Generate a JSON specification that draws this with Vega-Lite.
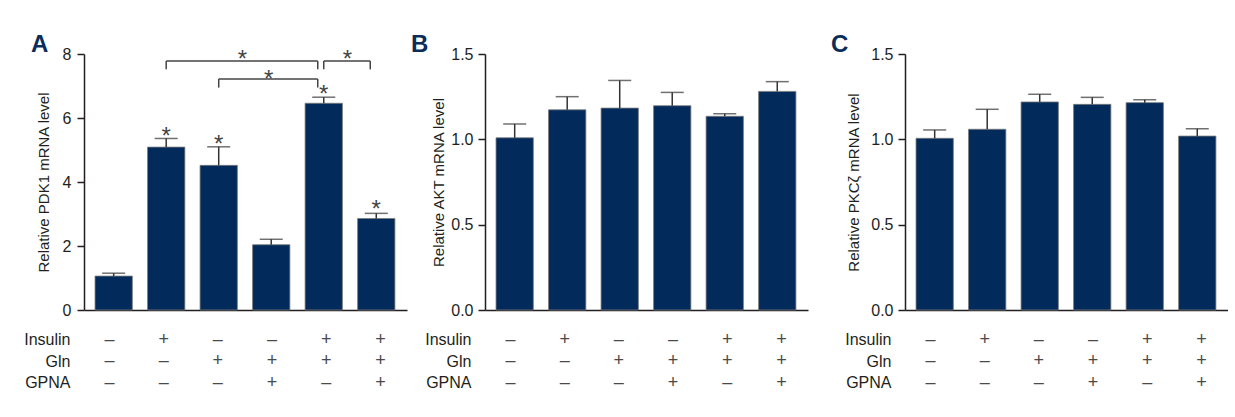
{
  "$schema": "https://vega.github.io/schema/vega-lite/v6.json",
  "background": "white",
  "padding": {"left": 23, "top": 33, "right": 0, "bottom": 0},
  "config": {
    "view": {"stroke": null},
    "font": "Liberation Sans, sans-serif",
    "axis": {
      "labelFont": "Liberation Sans, sans-serif",
      "titleFont": "Liberation Sans, sans-serif",
      "labelFontSize": 16, "titleFontSize": 15, "titleFontWeight": "normal",
      "labelColor": "#231f20", "titleColor": "#231f20",
      "domainColor": "#231f20", "tickColor": "#231f20",
      "domainWidth": 1.5, "tickWidth": 1.5, "grid": false
    },
    "title": {"font": "Liberation Sans, sans-serif", "fontSize": 24, "fontWeight": "bold", "color": "#0b2d5b", "anchor": "start", "frame": "group"}
  },
  "datasets": {
    "bars": [
      {"panel": "A", "pos": 1, "value": 1.06, "upper": 1.15, "star": false},
      {"panel": "A", "pos": 2, "value": 5.09, "upper": 5.36, "star": true, "starY": 5.61},
      {"panel": "A", "pos": 3, "value": 4.52, "upper": 5.10, "star": true, "starY": 5.38},
      {"panel": "A", "pos": 4, "value": 2.04, "upper": 2.21, "star": false},
      {"panel": "A", "pos": 5, "value": 6.46, "upper": 6.65, "star": true, "starY": 6.93},
      {"panel": "A", "pos": 6, "value": 2.86, "upper": 3.02, "star": true, "starY": 3.33},
      {"panel": "B", "pos": 1, "value": 1.009, "upper": 1.09, "star": false},
      {"panel": "B", "pos": 2, "value": 1.173, "upper": 1.25, "star": false},
      {"panel": "B", "pos": 3, "value": 1.183, "upper": 1.345, "star": false},
      {"panel": "B", "pos": 4, "value": 1.197, "upper": 1.275, "star": false},
      {"panel": "B", "pos": 5, "value": 1.135, "upper": 1.15, "star": false},
      {"panel": "B", "pos": 6, "value": 1.281, "upper": 1.338, "star": false},
      {"panel": "C", "pos": 1, "value": 1.006, "upper": 1.055, "star": false},
      {"panel": "C", "pos": 2, "value": 1.059, "upper": 1.176, "star": false},
      {"panel": "C", "pos": 3, "value": 1.219, "upper": 1.264, "star": false},
      {"panel": "C", "pos": 4, "value": 1.205, "upper": 1.246, "star": false},
      {"panel": "C", "pos": 5, "value": 1.215, "upper": 1.232, "star": false},
      {"panel": "C", "pos": 6, "value": 1.019, "upper": 1.062, "star": false}
    ],
    "brackets": [
      {"from": 2, "to": 5, "y": 7.78, "yEnd": 7.52, "mid": 3.45, "starY": 8.02},
      {"from": 3, "to": 5, "y": 7.22, "yEnd": 6.95, "mid": 3.95, "starY": 7.42},
      {"from": 5, "to": 6, "y": 7.78, "yEnd": 7.52, "mid": 5.45, "starY": 8.02}
    ],
    "table": [
      {"pos": 1, "factor": "Insulin", "sign": "–"}, {"pos": 2, "factor": "Insulin", "sign": "+"}, {"pos": 3, "factor": "Insulin", "sign": "–"},
      {"pos": 4, "factor": "Insulin", "sign": "–"}, {"pos": 5, "factor": "Insulin", "sign": "+"}, {"pos": 6, "factor": "Insulin", "sign": "+"},
      {"pos": 1, "factor": "Gln", "sign": "–"}, {"pos": 2, "factor": "Gln", "sign": "–"}, {"pos": 3, "factor": "Gln", "sign": "+"},
      {"pos": 4, "factor": "Gln", "sign": "+"}, {"pos": 5, "factor": "Gln", "sign": "+"}, {"pos": 6, "factor": "Gln", "sign": "+"},
      {"pos": 1, "factor": "GPNA", "sign": "–"}, {"pos": 2, "factor": "GPNA", "sign": "–"}, {"pos": 3, "factor": "GPNA", "sign": "–"},
      {"pos": 4, "factor": "GPNA", "sign": "+"}, {"pos": 5, "factor": "GPNA", "sign": "–"}, {"pos": 6, "factor": "GPNA", "sign": "+"}
    ]
  },
  "spacing": 4,
  "hconcat": [
    {
      "spacing": 11,
      "vconcat": [
        {
          "title": {"text": "A", "dx": -53, "offset": -11},
          "width": 323, "height": 256,
          "data": {"name": "bars"},
          "transform": [{"filter": "datum.panel === 'A'"}],
          "encoding": {
            "x": {"field": "pos", "type": "quantitative", "scale": {"domain": [0.53, 6.49], "nice": false, "zero": false},
                  "axis": {"title": null, "labels": false, "ticks": false, "grid": false}}
          },
          "layer": [
            {"mark": {"type": "bar", "width": 37.3, "color": "#022a5b", "stroke": "#7a7a7a", "strokeWidth": 0.8},
             "encoding": {"y": {"field": "value", "type": "quantitative", "scale": {"domain": [0, 8], "nice": false},
               "axis": {"title": "Relative PDK1 mRNA level", "values": [0, 2, 4, 6, 8], "tickSize": 7, "labelPadding": 6, "titlePadding": 10.5}}}},
            {"mark": {"type": "rule", "color": "#333333", "strokeWidth": 1.5},
             "encoding": {"y": {"field": "value", "type": "quantitative"}, "y2": {"field": "upper"}}},
            {"mark": {"type": "tick", "color": "#333333", "thickness": 1.5, "size": 23, "orient": "horizontal"},
             "encoding": {"y": {"field": "upper", "type": "quantitative"}}},
            {"transform": [{"filter": "datum.star"}],
             "mark": {"type": "text", "text": "*", "font": "Liberation Sans, sans-serif", "fontSize": 24, "color": "#444444", "baseline": "alphabetic", "dy": 14},
             "encoding": {"y": {"field": "starY", "type": "quantitative"}}},
            {"data": {"name": "brackets"},
             "mark": {"type": "rule", "color": "#444444", "strokeWidth": 1.5, "x2Offset": -6},
             "encoding": {"x": {"field": "from", "type": "quantitative"}, "x2": {"field": "to"}, "y": {"field": "y", "type": "quantitative"}}},
            {"data": {"name": "brackets"},
             "mark": {"type": "rule", "color": "#444444", "strokeWidth": 1.5},
             "encoding": {"x": {"field": "from", "type": "quantitative"}, "y": {"field": "y", "type": "quantitative"}, "y2": {"field": "yEnd"}}},
            {"data": {"name": "brackets"},
             "mark": {"type": "rule", "color": "#444444", "strokeWidth": 1.5, "xOffset": -6},
             "encoding": {"x": {"field": "to", "type": "quantitative"}, "y": {"field": "y", "type": "quantitative"}, "y2": {"field": "yEnd"}}},
            {"data": {"name": "brackets"},
             "mark": {"type": "text", "text": "*", "font": "Liberation Sans, sans-serif", "fontSize": 24, "color": "#444444", "baseline": "alphabetic", "dy": 14},
             "encoding": {"x": {"field": "mid", "type": "quantitative"}, "y": {"field": "starY", "type": "quantitative"}}}
          ]
        },
        {
          "width": 323, "height": 64.5,
          "data": {"name": "table"},
          "mark": {"type": "text", "fontSize": 18, "color": "#4a4a4a", "font": "Liberation Sans, sans-serif"},
          "encoding": {
            "x": {"field": "pos", "type": "quantitative", "scale": {"domain": [0.53, 6.49], "nice": false, "zero": false}, "axis": null},
            "y": {"field": "factor", "type": "nominal", "sort": ["Insulin", "Gln", "GPNA"],
                  "axis": {"title": null, "domain": false, "ticks": false, "labelPadding": 14, "labelFontSize": 16}},
            "text": {"field": "sign"}
          }
        }
      ]
    },
    {
      "spacing": 23,
      "hconcat": [
        {
          "spacing": 11,
          "vconcat": [
            {
              "title": {"text": "B", "dx": -74, "offset": -11},
              "width": 323, "height": 256,
              "data": {"name": "bars"},
              "transform": [{"filter": "datum.panel === 'B'"}],
              "encoding": {
                "x": {"field": "pos", "type": "quantitative", "scale": {"domain": [0.53, 6.49], "nice": false, "zero": false},
                      "axis": {"title": null, "labels": false, "ticks": false, "grid": false}}
              },
              "layer": [
                {"mark": {"type": "bar", "width": 37.3, "color": "#022a5b", "stroke": "#7a7a7a", "strokeWidth": 0.8},
                 "encoding": {"y": {"field": "value", "type": "quantitative", "scale": {"domain": [0, 1.5], "nice": false},
                   "axis": {"title": "Relative AKT mRNA level", "values": [0, 0.5, 1, 1.5], "format": ".1f", "tickSize": 7, "labelPadding": 5, "titlePadding": 4.5}}}},
                {"mark": {"type": "rule", "color": "#333333", "strokeWidth": 1.5},
                 "encoding": {"y": {"field": "value", "type": "quantitative"}, "y2": {"field": "upper"}}},
                {"mark": {"type": "tick", "color": "#333333", "thickness": 1.5, "size": 23, "orient": "horizontal"},
                 "encoding": {"y": {"field": "upper", "type": "quantitative"}}}
              ]
            },
            {
              "width": 323, "height": 64.5,
              "data": {"name": "table"},
              "mark": {"type": "text", "fontSize": 18, "color": "#4a4a4a", "font": "Liberation Sans, sans-serif"},
              "encoding": {
                "x": {"field": "pos", "type": "quantitative", "scale": {"domain": [0.53, 6.49], "nice": false, "zero": false}, "axis": null},
                "y": {"field": "factor", "type": "nominal", "sort": ["Insulin", "Gln", "GPNA"],
                      "axis": {"title": null, "domain": false, "ticks": false, "labelPadding": 14, "labelFontSize": 16}},
                "text": {"field": "sign"}
              }
            }
          ]
        },
        {
          "spacing": 11,
          "vconcat": [
            {
              "title": {"text": "C", "dx": -74, "offset": -11},
              "width": 323, "height": 256,
              "data": {"name": "bars"},
              "transform": [{"filter": "datum.panel === 'C'"}],
              "encoding": {
                "x": {"field": "pos", "type": "quantitative", "scale": {"domain": [0.53, 6.49], "nice": false, "zero": false},
                      "axis": {"title": null, "labels": false, "ticks": false, "grid": false}}
              },
              "layer": [
                {"mark": {"type": "bar", "width": 37.3, "color": "#022a5b", "stroke": "#7a7a7a", "strokeWidth": 0.8},
                 "encoding": {"y": {"field": "value", "type": "quantitative", "scale": {"domain": [0, 1.5], "nice": false},
                   "axis": {"title": "Relative PKCζ mRNA level", "values": [0, 0.5, 1, 1.5], "format": ".1f", "tickSize": 7, "labelPadding": 5, "titlePadding": 9.5}}}},
                {"mark": {"type": "rule", "color": "#333333", "strokeWidth": 1.5},
                 "encoding": {"y": {"field": "value", "type": "quantitative"}, "y2": {"field": "upper"}}},
                {"mark": {"type": "tick", "color": "#333333", "thickness": 1.5, "size": 23, "orient": "horizontal"},
                 "encoding": {"y": {"field": "upper", "type": "quantitative"}}}
              ]
            },
            {
              "width": 323, "height": 64.5,
              "data": {"name": "table"},
              "mark": {"type": "text", "fontSize": 18, "color": "#4a4a4a", "font": "Liberation Sans, sans-serif"},
              "encoding": {
                "x": {"field": "pos", "type": "quantitative", "scale": {"domain": [0.53, 6.49], "nice": false, "zero": false}, "axis": null},
                "y": {"field": "factor", "type": "nominal", "sort": ["Insulin", "Gln", "GPNA"],
                      "axis": {"title": null, "domain": false, "ticks": false, "labelPadding": 14, "labelFontSize": 16}},
                "text": {"field": "sign"}
              }
            }
          ]
        }
      ]
    }
  ]
}
